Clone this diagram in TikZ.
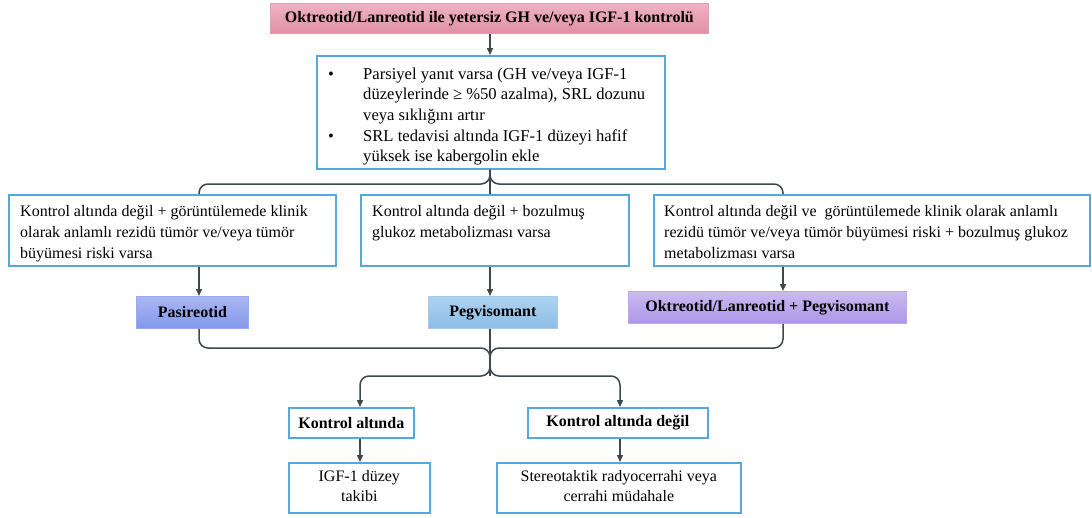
\documentclass[tikz,border=0pt]{standalone}
\usepackage{fontspec}
\setmainfont{Liberation Serif}
\usetikzlibrary{arrows.meta,calc,shadings}
\definecolor{connc}{HTML}{3E474B}
\definecolor{bbord}{HTML}{55A8DD}
\definecolor{pinkT}{HTML}{EFB3C3}
\definecolor{pinkB}{HTML}{E08FA5}
\definecolor{pinkD}{HTML}{E3A0B2}
\definecolor{pasT}{HTML}{AAB7F3}
\definecolor{pasB}{HTML}{8397EC}
\definecolor{pasD}{HTML}{97AAF0}
\definecolor{pegT}{HTML}{AED2F0}
\definecolor{pegB}{HTML}{8CBDE8}
\definecolor{pegD}{HTML}{A2CBEE}
\definecolor{opT}{HTML}{C9BAF1}
\definecolor{opB}{HTML}{AC97E8}
\definecolor{opD}{HTML}{BBA9EE}
\newcommand{\llines}[1]{\begin{tabular}[t]{@{}l@{}}#1\end{tabular}}
\newcommand{\clines}[1]{\begin{tabular}{@{}c@{}}#1\end{tabular}}
\begin{document}
\begin{tikzpicture}[x=1pt,y=-1pt,
  conn/.style={draw=connc, line width=1.5pt, rounded corners=9pt},
  arr/.style={-{Triangle[length=7pt,width=6pt]}},
  bluebox/.style={draw=bbord, line width=1.6pt, fill=white, inner sep=0pt, anchor=north west},
  gbox/.style={line width=0.8pt, inner sep=0pt, anchor=north west, shading angle=0},
  txt/.style={inner sep=0pt, font=\fontsize{16}{21}\selectfont},
  btxt/.style={inner sep=0pt, font=\fontsize{16}{21}\selectfont\bfseries},
]
\useasboundingbox (0,0) rectangle (1092,517);

% coordinates for connector columns
\coordinate (xl) at (199,0);
\coordinate (xm) at (490,0);
\coordinate (xr) at (783,0);
\coordinate (xk) at (360,0);
\coordinate (xd) at (620,0);
\coordinate (ja) at (490,184);
\coordinate (jb) at (490,348);
\coordinate (jc) at (490,376);

% boxes
\node[gbox, draw=pinkD, top color=pinkT, bottom color=pinkB, minimum width=438, minimum height=30] (top) at (270,3) {};
\node[btxt] (topt) at (top.center) {Oktreotid/Lanreotid ile yetersiz GH ve/veya IGF-1 kontrolü};

\node[bluebox, minimum width=348, minimum height=113] (bul) at (316,55) {};
\node[txt, anchor=base west, font=\fontsize{16.6}{20.7}\selectfont] (bult) at (328,79) {\begin{tabular}[t]{@{}p{35pt}@{}l@{}}
\textbullet & Parsiyel yanıt varsa (GH ve/veya IGF-1\\
 & düzeylerinde ≥ \%50 azalma), SRL dozunu\\
 & veya sıklığını artır\\
\textbullet & SRL tedavisi altında IGF-1 düzeyi hafif\\
 & yüksek ise kabergolin ekle
\end{tabular}};

\node[bluebox, minimum width=327, minimum height=71] (lbox) at (8,194) {};
\node[txt, anchor=base west] (lboxt) at (20,216) {\llines{Kontrol altında değil + görüntülemede klinik\\olarak anlamlı rezidü tümör ve/veya tümör\\büyümesi riski varsa}};

\node[bluebox, minimum width=268, minimum height=71] (cbox) at (360,194) {};
\node[txt, anchor=base west] (cboxt) at (372,216) {\llines{Kontrol altında değil + bozulmuş\\glukoz metabolizması varsa}};

\node[bluebox, minimum width=436, minimum height=71] (rbox) at (653,194) {};
\node[txt, anchor=base west] (rboxt) at (664,216) {\llines{Kontrol altında değil ve~ görüntülemede klinik olarak anlamlı\\rezidü tümör ve/veya tümör büyümesi riski + bozulmuş glukoz\\metabolizması varsa}};

\node[gbox, draw=pasD, top color=pasT, bottom color=pasB, minimum width=112, minimum height=32] (pas) at (136,296) {};
\node[btxt] (past) at (pas.center) {Pasireotid};

\node[gbox, draw=pegD, top color=pegT, bottom color=pegB, minimum width=129, minimum height=32] (peg) at (428,296) {};
\node[btxt] (pegt) at (peg.center) {Pegvisomant};

\node[gbox, draw=opD, top color=opT, bottom color=opB, minimum width=278, minimum height=32] (op) at (628,291) {};
\node[btxt] (opt) at (op.center) {Oktreotid/Lanreotid + Pegvisomant};

\node[bluebox, minimum width=125, minimum height=30] (ka) at (288,407) {};
\node[btxt] (kat) at (ka.center) {Kontrol altında};

\node[bluebox, minimum width=180, minimum height=30] (kd) at (527,407) {};
\node[btxt] (kdt) at (kd.center) {Kontrol altında değil};

\node[bluebox, minimum width=141, minimum height=50] (igf) at (288,462) {};
\node[txt, font=\fontsize{16}{20}\selectfont] (igft) at (igf.center) {\clines{IGF-1 düzey\\takibi}};

\node[bluebox, minimum width=244, minimum height=50] (st) at (496,462) {};
\node[txt, font=\fontsize{16}{20}\selectfont] (stt) at (st.center) {\clines{Stereotaktik radyocerrahi veya\\cerrahi müdahale}};

% connectors
\draw[conn, arr] (top.south -| xm) -- (bul.north -| xm);
\draw[conn] (bul.south -| xm) -- (ja) -| (lbox.north -| xl);
\draw[conn] (bul.south -| xm) -- (ja) -| (rbox.north -| xr);
\draw[conn] (bul.south -| xm) -- (cbox.north -| xm);

\draw[conn, arr] (lbox.south -| xl) -- (pas.north -| xl);
\draw[conn, arr] (cbox.south -| xm) -- (peg.north -| xm);
\draw[conn, arr] (rbox.south -| xr) -- (op.north -| xr);

\draw[conn, arr] (pas.south -| xl) |- (jb) -- (jc) -| (ka.north -| xk);
\draw[conn, arr] (op.south -| xr) |- (jb) -- (jc) -| (kd.north -| xd);
\draw[conn] (peg.south -| xm) -- (jc);

\draw[conn, arr] (ka.south -| xk) -- (igf.north -| xk);
\draw[conn, arr] (kd.south -| xd) -- (st.north -| xd);
\end{tikzpicture}
\end{document}
